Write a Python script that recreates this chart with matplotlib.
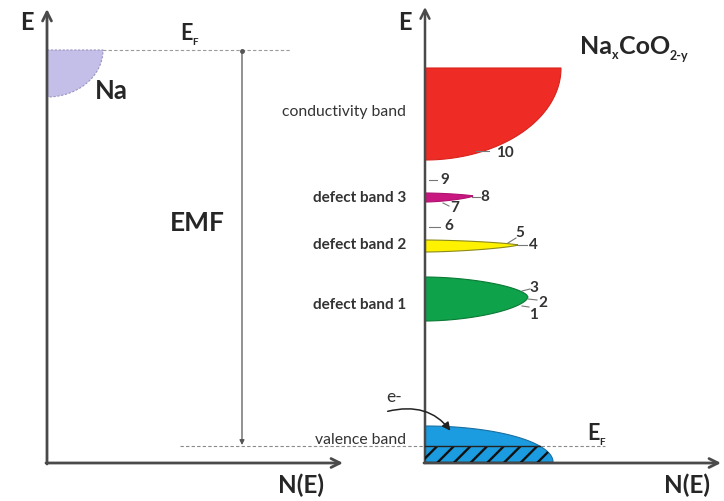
import numpy as np
import matplotlib.pyplot as plt
from matplotlib.patches import Polygon, FancyArrowPatch

plt.rcParams['font.family'] = ['Lato', 'DejaVu Sans']
plt.rcParams['hatch.linewidth'] = 1.7
plt.rcParams['hatch.color'] = '#111111'

# Energy scale runs downward (drawing units); N(E) runs to the right.
# Sodium metal band
na_top, na_bottom, na_width = 50, 97, 56
# Fermi levels of Na and NaxCoO2-y
fermi_na = 50
fermi_cob = 446

# Bands of NaxCoO2-y
band_names = ["conductivity band", "defect band 3", "defect band 2",
              "defect band 1", "valence band"]
band_top = [68, 193, 240, 277, 426]
band_bottom = [160, 202, 252, 321, 462]
band_tip = [None, 196, 245, 297, None]
band_width = [136, 48, 93, 103, 128]
band_colors = ['#ee2b25', '#c8177f', '#fff200', '#0ea24a', '#1b9ce0']
band_edges = ['#d8231d', '#b01070', '#8c8a1a', '#0a7a35', '#1a6fa0']

# Numbered transition levels
level_ids = ["1", "2", "3", "4", "5", "6", "7", "8", "9", "10"]
level_energy = [315, 303, 288, 245, 233, 226, 208, 197, 180, 153]

x_left = 47
x_right = 425
axis_bottom = 463

fig = plt.figure(figsize=(7.24, 5.01), dpi=100)
ax = fig.add_axes([0, 0, 1, 1])
ax.set_xlim(0, 724)
ax.set_ylim(501, 0)
ax.axis('off')
renderer = fig.canvas.get_renderer()

axis_col = '#4a4a4a'
txt_col = '#262626'


def arrow(x0, y0, x1, y1, lw=2.0, col=axis_col, ms=16):
    ax.annotate('', xy=(x1, y1), xytext=(x0, y0),
                arrowprops=dict(arrowstyle='->', lw=lw, color=col,
                                mutation_scale=ms, shrinkA=0, shrinkB=0))


def rich(x, y, pieces):
    """Draw bold text pieces (text, size, baseline shift) side by side."""
    cx = x
    for s, size, dy in pieces:
        t = ax.text(cx, y + dy, s, fontsize=size, fontweight='bold',
                    color=txt_col, ha='left', va='baseline')
        bb = t.get_window_extent(renderer)
        cx += bb.width


def quarter(x0, top, bottom, width, flat_top=True, n=80):
    t = np.linspace(0, np.pi / 2, n)
    xs = x0 + width * np.cos(t)
    h = bottom - top
    if flat_top:
        ys = top + h * np.sin(t)
        corner = (x0, top)
    else:
        ys = bottom - h * np.sin(t)
        corner = (x0, bottom)
    pts = np.column_stack([xs, ys])
    return np.vstack([[corner], pts])


def taper(x0, top, bottom, tip, width, p, q, n=80):
    u = np.linspace(0, 1, n)
    prof = (1 - u ** p) ** q
    xs = x0 + width * u
    up = tip + (top - tip) * prof
    lo = tip + (bottom - tip) * prof
    return np.vstack([np.column_stack([xs, up]),
                      np.column_stack([xs[::-1], lo[::-1]])])


# ---- left panel: sodium ----
arrow(x_left, axis_bottom + 1, x_left, 9)
arrow(x_left - 1, axis_bottom, 343, axis_bottom)
ax.add_patch(Polygon(quarter(x_left, na_top, na_bottom, na_width),
                     closed=True, facecolor='#c4bfe8', edgecolor='#9a94c0',
                     lw=0.8, ls=(0, (2, 1.5)), zorder=2))
ax.plot([x_left, 290], [fermi_na, fermi_na], ls=(0, (3, 2)), lw=0.8,
        color='#9a9a9a', zorder=1)

ax.text(27, 22, 'E', fontsize=17, fontweight='bold', color=txt_col,
        ha='center', va='center')
rich(180, 40, [('E', 15.5, 0), ('F', 7, 5)])
ax.text(111, 91, 'Na', fontsize=18.5, fontweight='bold', color=txt_col,
        ha='center', va='center')
ax.text(197, 223, 'EMF', fontsize=19, fontweight='bold', color=txt_col,
        ha='center', va='center')
ax.text(301, 485, 'N(E)', fontsize=17.5, fontweight='bold', color=txt_col,
        ha='center', va='center')

# EMF between the two Fermi levels
ax.add_patch(FancyArrowPatch((242, fermi_na), (242, fermi_cob - 1),
                             arrowstyle='-|>', mutation_scale=7, lw=0.9,
                             color='#555555', shrinkA=0, shrinkB=0))
ax.plot([242], [fermi_na + 1], marker='o', ms=2.5, color='#555555')
ax.plot([180, 605], [fermi_cob, fermi_cob], ls=(0, (3, 2)), lw=0.8,
        color='#8a8a8a', zorder=4)

# ---- right panel: NaxCoO2-y ----
for i, name in enumerate(band_names):
    if band_tip[i] is None:
        pts = quarter(x_right, band_top[i], band_bottom[i], band_width[i],
                      flat_top=(i == 0))
    elif i == 3:
        pts = taper(x_right, band_top[i], band_bottom[i], band_tip[i],
                    band_width[i], 1.8, 0.6)
    else:
        pts = taper(x_right, band_top[i], band_bottom[i], band_tip[i],
                    band_width[i], 1.6, 0.75)
    ax.add_patch(Polygon(pts, closed=True, facecolor=band_colors[i],
                         edgecolor=band_edges[i], lw=0.8, zorder=3))

# occupied states below the Fermi level (hatched)
vb = 4
h = band_bottom[vb] - band_top[vb]
t_f = np.arcsin((band_bottom[vb] - fermi_cob) / h)
t = np.linspace(t_f, 0, 40)
occ = np.vstack([[(x_right, band_bottom[vb]), (x_right, fermi_cob)],
                 np.column_stack([x_right + band_width[vb] * np.cos(t),
                                  band_bottom[vb] - h * np.sin(t)])])
ax.add_patch(Polygon(occ, closed=True, facecolor='none', edgecolor='#111111',
                     hatch='//', lw=0, zorder=4))
ax.plot([x_right, x_right + band_width[vb] * np.cos(t_f)],
        [fermi_cob, fermi_cob], color='#222222', lw=1.0, zorder=5)

arrow(x_right, axis_bottom, x_right, 7, lw=1.8)
arrow(x_right - 1, axis_bottom, 721, axis_bottom)

ax.text(405, 22, 'E', fontsize=17, fontweight='bold', color=txt_col,
        ha='center', va='center')
rich(580, 54, [('Na', 18, 0), ('x', 9, 5), ('CoO', 18, 0), ('2-y', 9, 6)])
rich(587, 440, [('E', 15.5, 0), ('F', 7, 5)])
ax.text(687, 485, 'N(E)', fontsize=17.5, fontweight='bold', color=txt_col,
        ha='center', va='center')

# band names
name_y = [112, 198, 245, 305, 440]
for i, name in enumerate(band_names):
    bold = name.startswith('defect')
    ax.text(406, name_y[i], name, fontsize=11 if bold else 11.3,
            fontweight='bold' if bold else 'normal', color='#333333',
            ha='right', va='center', zorder=6)

# numbered levels with short leader lines
label_x = [533, 543, 534, 533, 520, 449, 455, 485, 445, 505]
leaders = {
    "1": ((522, 529), (306, 307)),
    "2": ((528, 537), (299, 300)),
    "3": ((522, 530), (291, 289)),
    "4": ((518, 527), (245, 245)),
    "5": ((508, 516), (243, 238)),
    "6": ((429, 440), (227, 227)),
    "7": ((443, 449), (203, 206)),
    "8": ((472, 480), (197, 197)),
    "9": ((429, 437), (180, 180)),
    "10": ((476, 489), (151, 151)),
}
for lid, xe, ye in zip(level_ids, label_x, level_energy):
    ax.text(xe, ye, lid, fontsize=11, fontweight='bold', color='#333333',
            ha='center', va='center', zorder=6)
    lx, ly = leaders[lid]
    ax.plot(lx, ly, color='#777777', lw=0.8, zorder=5)

# electron transfer into the valence band
ax.text(394, 397, 'e-', fontsize=12.5, color='#333333', ha='center',
        va='center')
ax.add_patch(FancyArrowPatch((385, 412), (452, 433),
                             connectionstyle='angle3,angleA=15,angleB=-55',
                             arrowstyle='-|>', mutation_scale=12, lw=1.1,
                             color='#222222', zorder=6))

fig.savefig('out.png', dpi=100)
